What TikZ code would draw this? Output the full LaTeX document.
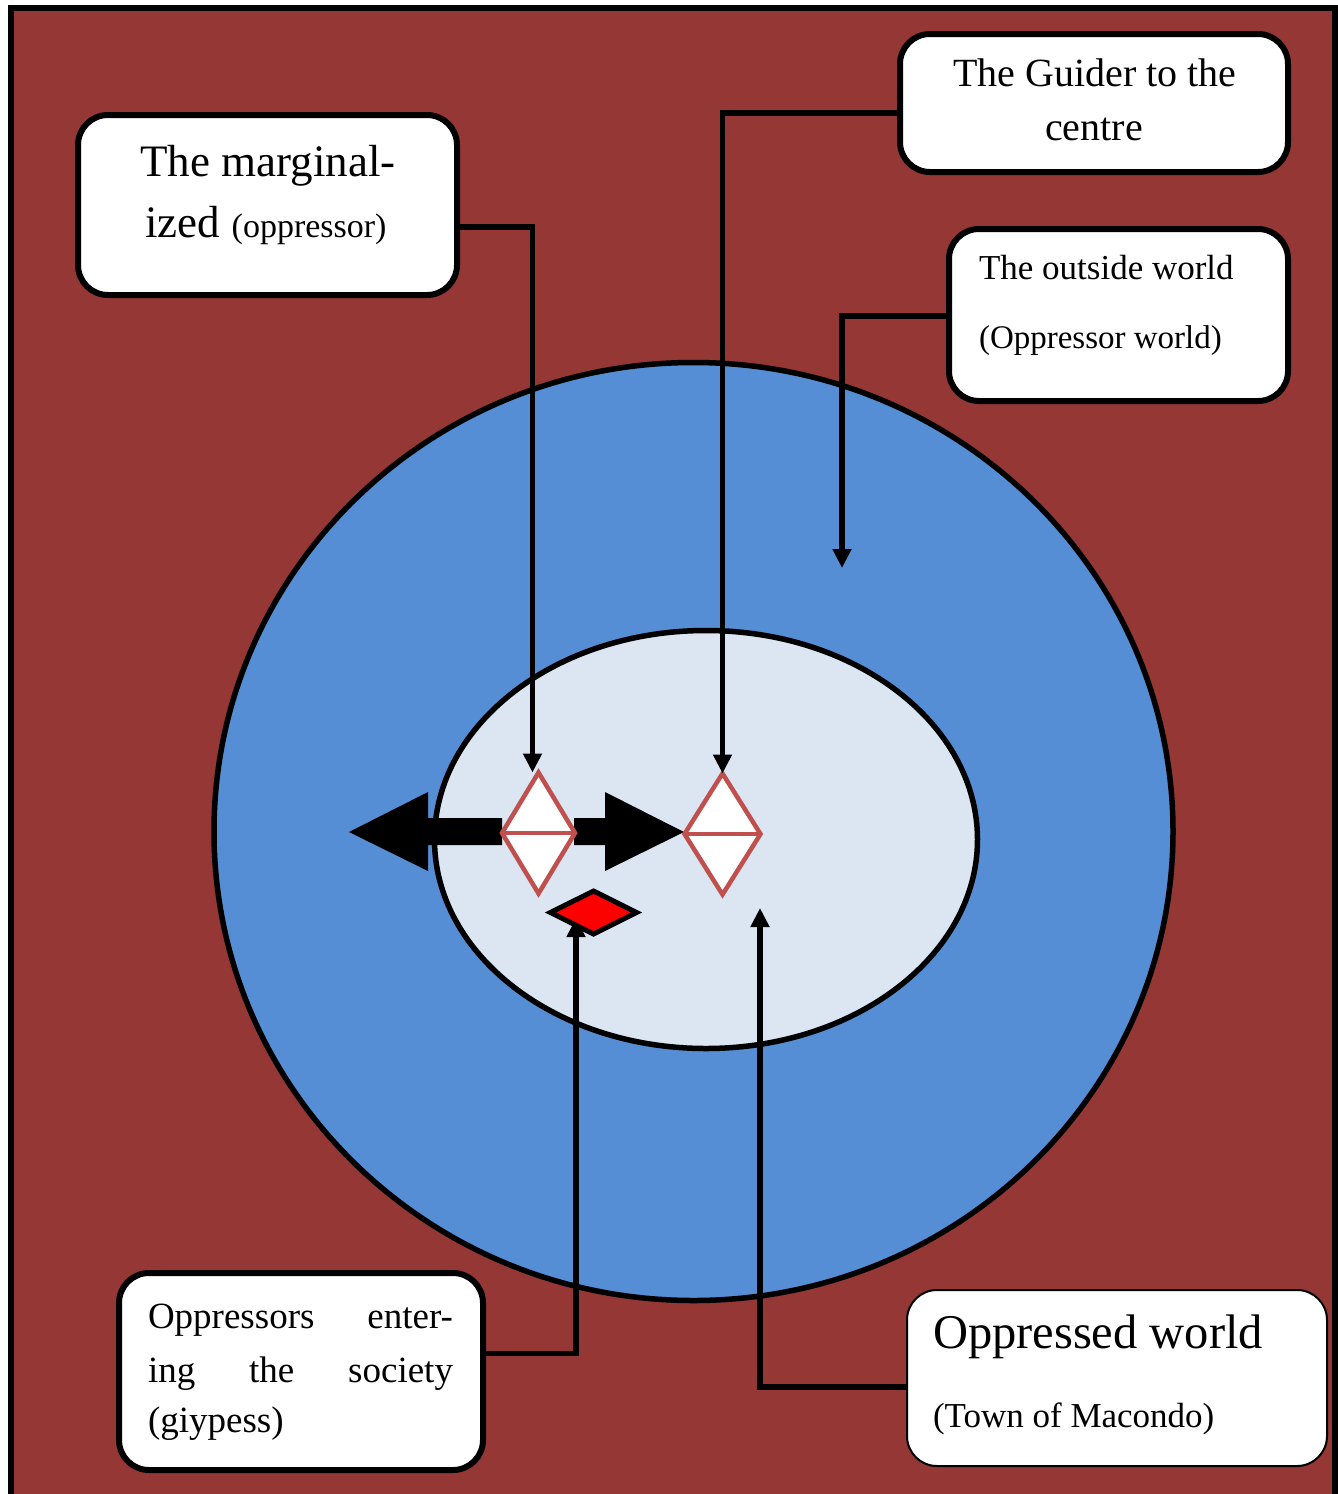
\documentclass[tikz,border=0pt]{standalone}
\usepackage{fontspec}
\setmainfont{Liberation Serif}
\usetikzlibrary{shapes.geometric,arrows.meta}
\definecolor{bgred}{RGB}{149,55,53}
\definecolor{ringblue}{RGB}{85,142,213}
\definecolor{coreblue}{RGB}{220,230,242}
\definecolor{diared}{RGB}{192,80,77}
\definecolor{gemred}{RGB}{255,0,0}
\tikzset{
  labelbox/.style={draw=black,fill=white,line width=6pt,rounded corners=30pt,inner sep=0pt,outer sep=0pt},
  thinbox/.style={labelbox,line width=2pt},
  txt/.style={inner sep=0pt,outer sep=0pt,anchor=base},
  txtl/.style={inner sep=0pt,outer sep=0pt,anchor=base west},
  conn/.style={draw=black,line width=5.5pt,-{Triangle[width=18pt,length=19pt]}},
  whitegem/.style={diamond,draw=diared,fill=white,line width=4.5pt,inner sep=0pt,outer sep=0pt,minimum width=73pt,minimum height=121pt},
  blockarrow/.style={fill=black,draw=none}
}
\begin{document}
\begin{tikzpicture}[x=1pt,y=-1pt]
\useasboundingbox (0,0) rectangle (1338,1494);
\begin{scope}
\clip (0,0) rectangle (1338,1494);
\fill[white] (0,0) rectangle (1338,1494);
\draw[line width=6pt,fill=bgred] (11,8) rectangle (1335,1520);
\end{scope}
% worlds
\node[ellipse,draw=black,fill=ringblue,line width=5.5pt,inner sep=0pt,minimum width=959pt,minimum height=938pt] (outer) at (693.5,831.5) {};
\node[ellipse,draw=black,fill=coreblue,line width=5.5pt,inner sep=0pt,minimum width=543pt,minimum height=418pt] (inner) at (706,839.5) {};
% block arrows
\fill[blockarrow] (502,818) -- (428,818) -- (428,792) -- (349,832) -- (428,871) -- (428,845) -- (502,845) -- cycle;
\fill[blockarrow] (574,818) -- (605,818) -- (605,792) -- (684,832) -- (605,871) -- (605,845) -- (574,845) -- cycle;
% figures
\node[whitegem] (d1) at (538.5,833) {};
\draw[diared,line width=4.5pt] (d1.west) -- (d1.east);
\node[whitegem,minimum width=76pt] (d2) at (722.5,834) {};
\draw[diared,line width=4.5pt] (d2.west) -- (d2.east);
% label boxes
\node[labelbox,minimum width=379pt,minimum height=180pt] (b1) at (267.5,205) {};
\node[labelbox,minimum width=388pt,minimum height=138pt] (b2) at (1094,103) {};
\node[labelbox,minimum width=339pt,minimum height=172pt] (b3) at (1118.5,315) {};
\node[labelbox,minimum width=364pt,minimum height=197pt] (b4) at (301,1371.5) {};
\node[thinbox,minimum width=420pt,minimum height=176pt] (b5) at (1117,1378) {};
% texts
\node[txt,font=\fontsize{45}{50}\selectfont] (t1a) at (268,176) {The marginal-};
\node[txt] (t1b) at (266,237) {\fontsize{45}{50}\selectfont ized \fontsize{34}{38}\selectfont(oppressor)};
\node[txt,font=\fontsize{40}{46}\selectfont] (t2a) at (1095,86) {The Guider to the};
\node[txt,font=\fontsize{40}{46}\selectfont] (t2b) at (1094,140) {centre};
\node[txtl,font=\fontsize{35}{40}\selectfont] (t3a) at (979,279) {The outside world};
\node[txtl,font=\fontsize{33}{38}\selectfont] (t3b) at (979,348) {(Oppressor world)};
\node[txtl,font=\fontsize{37}{42}\selectfont] (t4a) at (148,1328) {\hbox to 305pt{Oppressors\hfill enter-}};
\node[txtl,font=\fontsize{37}{42}\selectfont] (t4b) at (148,1382) {\hbox to 305pt{ing\hfill the\hfill society}};
\node[txtl,font=\fontsize{37}{42}\selectfont] (t4c) at (148,1432) {(giypess)};
\node[txtl,font=\fontsize{48.5}{54}\selectfont] (t5a) at (933,1348) {Oppressed world};
\node[txtl,font=\fontsize{35}{40}\selectfont] (t5b) at (933,1427) {(Town of Macondo)};
% connector end points
\coordinate (d1top) at ([xshift=-6pt]d1.north);
\coordinate (outpt) at (842,568);
\coordinate (gempt) at (576,918);
\coordinate (townpt) at (760,908);
% connectors
\draw[conn] ([yshift=-22pt]b1.east) -| (d1top);
\draw[conn] ([yshift=-10pt]b2.west) -| (d2.north);
\draw[conn] ([yshift=-1pt]b3.west) -| (outpt);
\draw[conn] ([yshift=18pt]b4.east) -| (gempt);
\draw[conn] ([yshift=-9pt]b5.west) -| (townpt);
% gipsy figure
\node[diamond,draw=black,fill=gemred,line width=5pt,inner sep=0pt,minimum width=88pt,minimum height=45pt] (gem) at (593.5,912.5) {};
\end{tikzpicture}
\end{document}
